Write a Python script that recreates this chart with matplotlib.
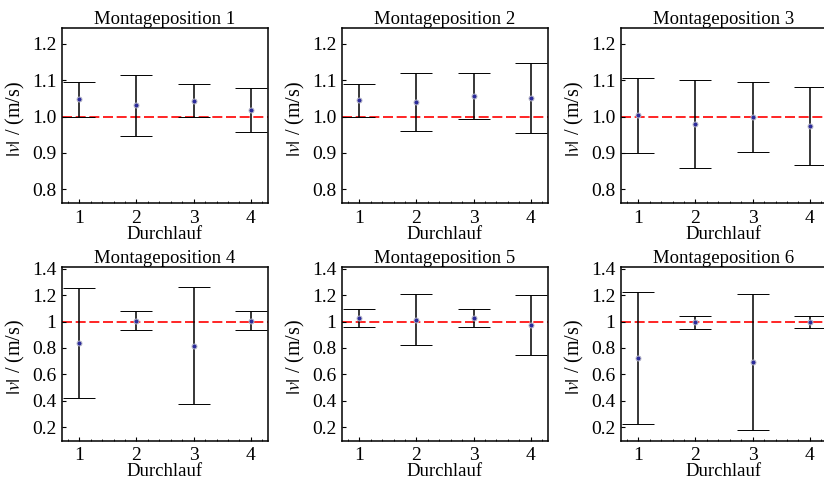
import matplotlib
matplotlib.use('Agg')
import matplotlib.pyplot as plt
from matplotlib.ticker import MultipleLocator, FormatStrFormatter

plt.rcParams['font.family'] = ['Liberation Serif', 'DejaVu Serif']
plt.rcParams['mathtext.fontset'] = 'stix'

# Daten
durchlauf = [1, 2, 3, 4]
titel = ['Montageposition 1', 'Montageposition 2', 'Montageposition 3',
         'Montageposition 4', 'Montageposition 5', 'Montageposition 6']

v_pos1 = [1.047, 1.031, 1.043, 1.018]
err_pos1 = [0.049, 0.084, 0.045, 0.061]
v_pos2 = [1.045, 1.040, 1.056, 1.051]
err_pos2 = [0.045, 0.080, 0.064, 0.097]
v_pos3 = [1.003, 0.979, 1.000, 0.974]
err_pos3 = [0.102, 0.121, 0.096, 0.108]
v_pos4 = [0.841, 1.007, 0.817, 1.007]
err_pos4 = [0.416, 0.074, 0.441, 0.070]
v_pos5 = [1.028, 1.014, 1.028, 0.973]
err_pos5 = [0.068, 0.191, 0.068, 0.229]
v_pos6 = [0.727, 0.994, 0.696, 0.994]
err_pos6 = [0.500, 0.050, 0.515, 0.045]

werte = [v_pos1, v_pos2, v_pos3, v_pos4, v_pos5, v_pos6]
fehler = [err_pos1, err_pos2, err_pos3, err_pos4, err_pos5, err_pos6]

W, H = 824, 480
fig = plt.figure(figsize=(W / 100, H / 100), dpi=100)

lefts = [62, 342, 621]
breite = 206
zeilen = [(28.3, 203.3), (266.7, 440.5)]

for i in range(6):
    zeile, spalte = divmod(i, 3)
    oben, unten = zeilen[zeile]
    ax = fig.add_axes([lefts[spalte] / W, (H - unten) / H,
                       breite / W, (unten - oben) / H])

    ax.axhline(1.0, color='red', ls=(0, (6, 2.2)), lw=1.2, zorder=1)
    ax.errorbar(durchlauf, werte[i], yerr=fehler[i], fmt='o',
                color='black', ecolor='black', elinewidth=1.1,
                capsize=11.2, capthick=1.3, ms=3.6,
                mfc='#2b2b9a', mec='#b8b8c8', mew=0.7, zorder=3)

    ax.set_xlim(0.7, 4.3)
    ax.set_xticks(durchlauf)
    ax.xaxis.set_minor_locator(MultipleLocator(0.2))
    if zeile == 0:
        ax.set_ylim(0.762, 1.242)
        ax.yaxis.set_major_locator(MultipleLocator(0.1))
        ax.yaxis.set_major_formatter(FormatStrFormatter('%.1f'))
    else:
        ax.set_ylim(0.1, 1.415)
        ax.set_yticks([0.2, 0.4, 0.6, 0.8, 1.0, 1.2, 1.4])
        ax.yaxis.set_major_formatter(FormatStrFormatter('%g'))

    ax.tick_params(axis='both', which='major', direction='in', length=3,
                   width=0.8, labelsize=14)
    ax.tick_params(axis='x', which='major', pad=5)
    ax.tick_params(axis='y', which='major', pad=4)
    ax.tick_params(axis='x', which='minor', direction='in', length=1.8,
                   width=0.6)
    for sp in ax.spines.values():
        sp.set_linewidth(1.1)

    ax.set_title(titel[i], fontsize=13.5, pad=3)
    ax.set_xlabel('Durchlauf', fontsize=13.5, labelpad=-1)
    ax.set_ylabel(r'$|v|$ / (m/s)', fontsize=14.5)
    ax.yaxis.set_label_coords(-0.17, 0.48)

fig.savefig('out.png', dpi=100)
